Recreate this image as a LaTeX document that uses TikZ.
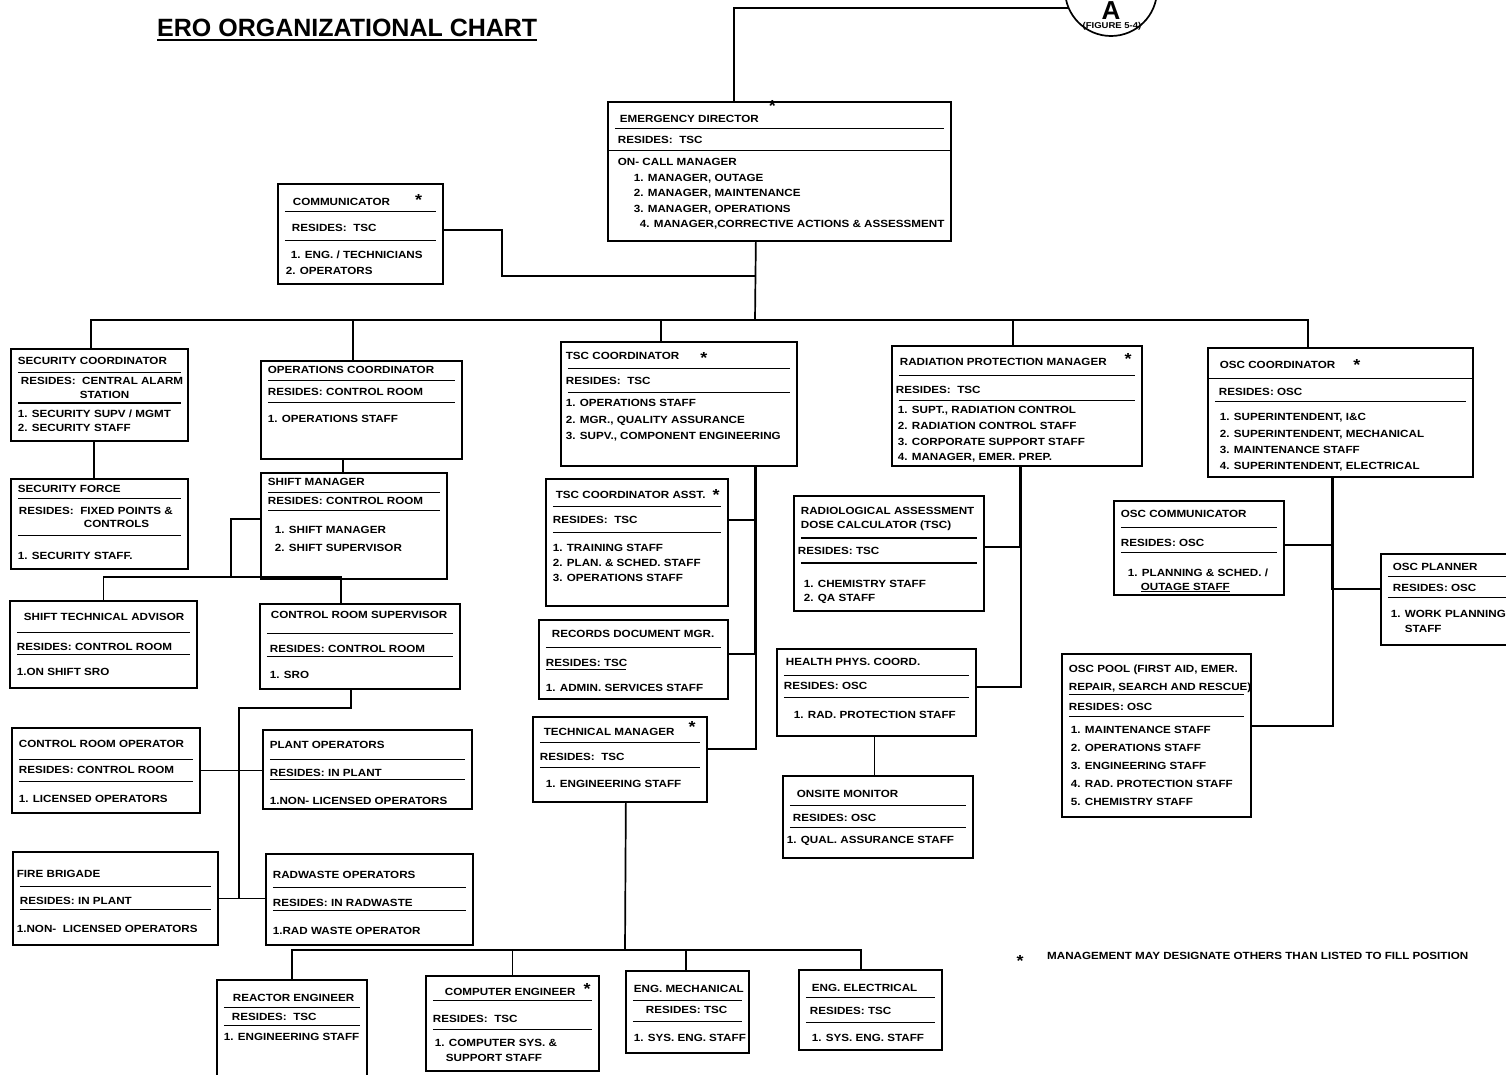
\documentclass[tikz,border=0pt]{standalone}
\usepackage{fontspec}
\setmainfont{Liberation Sans}[FakeStretch=1.12]
\newfontfamily\titlefont{Liberation Sans}

\newcommand{\chartfont}{\fontsize{10.4}{15.5}\selectfont\bfseries}
% a card: fixed width and height, text from the top; long lines may overhang
\NewDocumentCommand{\card}{O{15.5pt}mm+m}{\parbox[t][#3][t]{#2}{\baselineskip=#1\relax
  \rightskip=0pt minus 60pt\relax #4}}
\NewDocumentCommand{\hr}{O{5pt}O{7pt}O{\hsize}}{\par\vspace{#1}\hrule width #3 height 1.6pt\vspace{#2}}
\NewDocumentCommand{\fullhr}{O{5pt}O{7pt}}{\par\nointerlineskip\vspace{#1}\hbox to\hsize{\hskip-7pt
  \vrule width \dimexpr\hsize+14pt\relax height 1.6pt\hss}\nointerlineskip\vspace{#2}}
\newcommand{\desig}[1][0pt]{\smash{\raisebox{#1}{\fontsize{16}{16}\selectfont*}}}
\newcommand{\bigul}[1]{\setbox0\hbox{#1}\rlap{\vrule height -3pt depth 5pt width \wd0}\box0}

\begin{document}
\begin{tikzpicture}[
  x=1pt, y=-1pt,
  orgbox/.style = {draw, line width=1.7pt, anchor=north west,
                   inner xsep=7pt, inner ysep=0pt, font=\chartfont},
  link/.style   = {line width=1.7pt},
  note/.style   = {font=\chartfont, inner sep=0pt},
]
\useasboundingbox (0,0) rectangle (1506,1074);
\clip (0,0) rectangle (1506,1074);

\node[note, anchor=base west] (title) at (157,36)
  {\titlefont\bfseries\fontsize{25}{25}\selectfont\bigul{ERO ORGANIZATIONAL CHART}};

% off-page connector to figure 5-4
\node[draw, circle, line width=1.7pt, minimum size=92pt, inner sep=0pt] (figA) at (1111,-10) {};
\node[note, anchor=base] (figAletter) at (1111,19) {\titlefont\bfseries\fontsize{26}{26}\selectfont A};
\node[note] (figAref) at (1112,26) {\fontsize{8.5}{9}\selectfont (FIGURE 5-4)};

\node[orgbox] (ed) at (607,101) {\card{329pt}{139pt}{\vspace*{13pt}%
  \hspace*{5pt}EMERGENCY DIRECTOR\hspace{10pt}\desig[11pt]\hr[5.5pt][7.4pt]%
  \hspace*{3pt}RESIDES:\ \ TSC\fullhr[5.5pt][7.4pt]%
  \hspace*{3pt}ON- CALL MANAGER\\
  \hspace*{19pt}1. MANAGER, OUTAGE\\
  \hspace*{19pt}2. MANAGER, MAINTENANCE\\
  \hspace*{19pt}3. MANAGER, OPERATIONS\\
  \hspace*{25pt}4. MANAGER,CORRECTIVE ACTIONS \& ASSESSMENT}};

\node[orgbox] (comm) at (277,183) {\card[16pt]{151pt}{100pt}{\vspace*{14pt}%
  \hspace*{8pt}COMMUNICATOR\hspace{25pt}\desig\hr[5.5pt][12.4pt]%
  \hspace*{7pt}RESIDES:\ \ TSC\hr[7.5pt][9.4pt]%
  \hspace*{6pt}1. ENG. / TECHNICIANS\\
  \hspace*{1pt}2. OPERATORS}};

% left wing
\node[orgbox] (seccoord) at (10,348) {\card[13.5pt]{163pt}{92pt}{\vspace*{8pt}%
  SECURITY COORDINATOR\hr[7.5pt][4.4pt]%
  \hspace*{3pt}RESIDES:\ \ CENTRAL ALARM\\
  \hspace*{62pt}STATION\hr[3.5pt][6.4pt]%
  1. SECURITY SUPV / MGMT\\
  2. SECURITY STAFF}};

\node[orgbox] (secforce) at (10,478) {\card[13pt]{163pt}{90pt}{\vspace*{6pt}%
  SECURITY FORCE\hr[5.5pt][8.4pt]%
  \hspace*{1pt}RESIDES:\ \ FIXED POINTS \&\\
  \hspace*{66pt}CONTROLS\hr[6.5pt][16.4pt]%
  1. SECURITY STAFF.}};

\node[orgbox] (opscoord) at (260,360) {\card{187pt}{98pt}{\vspace*{5pt}%
  OPERATIONS COORDINATOR\hr[6.5pt][7.4pt]%
  RESIDES: CONTROL ROOM\hr[5.5pt][12.4pt]%
  1. OPERATIONS STAFF}};

\node[orgbox] (shiftmgr) at (260,472) {\card[18pt]{172pt}{106pt}{\vspace*{5pt}%
  SHIFT MANAGER\hr[6.5pt][4.4pt]%
  RESIDES: CONTROL ROOM\hr[4.5pt][15.4pt]%
  \hspace*{7pt}1. SHIFT MANAGER\\
  \hspace*{7pt}2. SHIFT SUPERVISOR}};

\node[orgbox] (sta) at (9,600) {\card{173pt}{87pt}{\vspace*{12pt}%
  \hspace*{7pt}SHIFT TECHNICAL ADVISOR\hr[11.5pt][10.4pt]%
  RESIDES: CONTROL ROOM\hr[2.5pt][13.4pt]%
  1.ON SHIFT SRO}};

\node[orgbox] (crs) at (259,603) {\card{186pt}{85pt}{\vspace*{7pt}%
  \hspace*{4pt}CONTROL ROOM SUPERVISOR\hr[14.5pt][11.4pt]%
  \hspace*{3pt}RESIDES: CONTROL ROOM\hr[2.5pt][14.4pt]%
  \hspace*{3pt}1. SRO}};

\node[orgbox] (cro) at (11,727) {\card{174pt}{85pt}{\vspace*{12pt}%
  CONTROL ROOM OPERATOR\hr[11.5pt][6.4pt]%
  RESIDES: CONTROL ROOM\hr[6.5pt][13.4pt]%
  1. LICENSED OPERATORS}};

\node[orgbox] (plantops) at (262,729) {\card{195pt}{79pt}{\vspace*{11pt}%
  PLANT OPERATORS\hr[10.5pt][9.4pt]%
  RESIDES: IN PLANT\hr[1.5pt][17.4pt]%
  1.NON- LICENSED OPERATORS}};

\node[orgbox] (firebrig) at (12,851) {\card{191pt}{93pt}{\vspace*{18pt}%
  \hspace*{-3pt}FIRE BRIGADE\hr[8.5pt][10.4pt]%
  RESIDES: IN PLANT\hr[3.5pt][15.4pt]%
  \hspace*{-3pt}1.NON-\ \ LICENSED OPERATORS}};

\node[orgbox] (radwaste) at (265,853) {\card{193pt}{91pt}{\vspace*{17pt}%
  RADWASTE OPERATORS\hr[8.5pt][11.4pt]%
  RESIDES: IN RADWASTE\hr[2.5pt][16.4pt]%
  1.RAD WASTE OPERATOR}};

% TSC column
\node[orgbox] (tsccoord) at (560,341) {\card[16.5pt]{222pt}{124pt}{\vspace*{10pt}%
  \hspace*{-2pt}TSC COORDINATOR\hspace{21pt}\desig[-4pt]\hr[8.5pt][8.4pt]%
  \hspace*{-2pt}RESIDES:\ \ TSC\hr[6.5pt][6.4pt]%
  \hspace*{-2pt}1. OPERATIONS STAFF\\
  \hspace*{-2pt}2. MGR., QUALITY ASSURANCE\\
  \hspace*{-2pt}3. SUPV., COMPONENT ENGINEERING}};

\node[orgbox] (tscasst) at (545,478) {\card[15pt]{168pt}{127pt}{\vspace*{12pt}%
  \hspace*{3pt}TSC COORDINATOR ASST.\hspace{7pt}\desig[-2pt]\hr[7.5pt][9.4pt]%
  RESIDES:\ \ TSC\hr[7.5pt][11.4pt]%
  1. TRAINING STAFF\\
  2. PLAN. \& SCHED. STAFF\\
  3. OPERATIONS STAFF}};

\node[orgbox] (records) at (538,619) {\card{175pt}{79pt}{\vspace*{10pt}%
  \hspace*{6pt}RECORDS DOCUMENT MGR.\hr[9.5pt][11.4pt]%
  RESIDES: TSC\hr[1.5pt][14.4pt][80pt]%
  1. ADMIN. SERVICES STAFF}};

\node[orgbox] (techmgr) at (532,716) {\card{160pt}{85pt}{\vspace*{11pt}%
  \hspace*{4pt}TECHNICAL MANAGER\hspace{14pt}\desig[3pt]\hr[6.5pt][10.4pt]%
  RESIDES:\ \ TSC\hr[5.5pt][12.4pt]%
  \hspace*{6pt}1. ENGINEERING STAFF}};

\node[orgbox] (reactor) at (216,979) {\card{136pt}{111pt}{\vspace*{14pt}%
  \hspace*{9pt}REACTOR ENGINEER\hr[5.5pt][5.4pt]%
  \hspace*{8pt}RESIDES:\ \ TSC\hr[3.5pt][7.4pt]%
  1. ENGINEERING STAFF}};

\node[orgbox] (compeng) at (425,975) {\card[15pt]{159pt}{95pt}{\vspace*{12pt}%
  \hspace*{12pt}COMPUTER ENGINEER\hspace{8pt}\desig[1pt]\hr[4.5pt][14.4pt]%
  RESIDES:\ \ TSC\hr[5.5pt][9.4pt]%
  \hspace*{2pt}1. COMPUTER SYS. \&\\
  \hspace*{13pt}SUPPORT STAFF}};

\node[orgbox] (engmech) at (625,970) {\card{109pt}{82pt}{\vspace*{14pt}%
  \hspace*{1pt}ENG. MECHANICAL\hr[7.5pt][5.4pt]%
  \hspace*{13pt}RESIDES: TSC\hr[6.5pt][12.4pt]%
  \hspace*{1pt}1. SYS. ENG. STAFF}};

\node[orgbox] (engelec) at (798,969) {\card{129pt}{80pt}{\vspace*{14pt}%
  \hspace*{6pt}ENG. ELECTRICAL\hr[5.5pt][9.4pt]%
  \hspace*{4pt}RESIDES: TSC\hr[6.5pt][11.4pt]%
  \hspace*{6pt}1. SYS. ENG. STAFF}};

% radiation protection column
\node[orgbox] (rpm) at (891,345) {\card[15.7pt]{236pt}{120pt}{\vspace*{12pt}%
  \hspace*{1pt}RADIATION PROTECTION MANAGER\hspace{18pt}\desig[1pt]\hr[9.5pt][10.4pt]%
  \hspace*{-3pt}RESIDES:\ \ TSC\hr[5.5pt][5.4pt]%
  \hspace*{-1pt}1. SUPT., RADIATION CONTROL\\
  \hspace*{-1pt}2. RADIATION CONTROL STAFF\\
  \hspace*{-1pt}3. CORPORATE SUPPORT STAFF\\
  \hspace*{-1pt}4. MANAGER, EMER. PREP.}};

\node[orgbox] (radassess) at (793,495) {\card[14.5pt]{176pt}{115pt}{\vspace*{11pt}%
  RADIOLOGICAL ASSESSMENT\\
  DOSE CALCULATOR (TSC)\hr[6.5pt][8.4pt]%
  \hspace*{-3pt}RESIDES: TSC\hr[7.5pt][16.4pt]%
  \hspace*{3pt}1. CHEMISTRY STAFF\\
  \hspace*{3pt}2. QA STAFF}};

\node[orgbox] (hpcoord) at (776,648) {\card{185pt}{87pt}{\vspace*{9pt}%
  \hspace*{2pt}HEALTH PHYS. COORD.\hr[9.5pt][6.4pt]%
  RESIDES: OSC\hr[6.5pt][13.4pt]%
  \hspace*{10pt}1. RAD. PROTECTION STAFF}};

\node[orgbox] (onsite) at (782,775) {\card{176pt}{82pt}{\vspace*{14pt}%
  \hspace*{7pt}ONSITE MONITOR\hr[7.5pt][8.4pt]%
  \hspace*{3pt}RESIDES: OSC\hr[4.5pt][8.4pt]%
  \hspace*{-3pt}1. QUAL. ASSURANCE STAFF}};

% OSC column
\node[orgbox] (osccoord) at (1207,347) {\card[16.3pt]{251pt}{129pt}{\vspace*{13pt}%
  \hspace*{5pt}OSC COORDINATOR\hspace{18pt}\desig[-2pt]\fullhr[9.5pt][9.4pt]%
  \hspace*{4pt}RESIDES: OSC\hr[4.5pt][11.4pt]%
  \hspace*{5pt}1. SUPERINTENDENT, I\&C\\
  \hspace*{5pt}2. SUPERINTENDENT, MECHANICAL\\
  \hspace*{5pt}3. MAINTENANCE STAFF\\
  \hspace*{5pt}4. SUPERINTENDENT, ELECTRICAL}};

\node[orgbox] (osccomm) at (1113,500) {\card[14pt]{156pt}{94pt}{\vspace*{9pt}%
  OSC COMMUNICATOR\hr[9.5pt][11.4pt]%
  RESIDES: OSC\hr[4.5pt][15.4pt]%
  \hspace*{7pt}1. PLANNING \& SCHED. /\\
  \hspace*{20pt}\underline{OUTAGE STAFF}}};

\node[orgbox] (oscplanner) at (1380,553) {\card[15pt]{126pt}{91pt}{\vspace*{9pt}%
  \hspace*{5pt}OSC PLANNER\hr[5.5pt][7.4pt]%
  \hspace*{5pt}RESIDES: OSC\hr[4.5pt][12.4pt]%
  \hspace*{3pt}1. WORK PLANNING\\
  \hspace*{17pt}STAFF}};

\node[orgbox] (oscpool) at (1061,653) {\card[17.8pt]{175pt}{163pt}{\vspace*{11pt}%
  OSC POOL (FIRST AID, EMER.\\
  REPAIR, SEARCH AND RESCUE)\hr[1.5pt][7.4pt]%
  RESIDES: OSC\hr[5.5pt][9.4pt]%
  \hspace*{2pt}1. MAINTENANCE STAFF\\
  \hspace*{2pt}2. OPERATIONS STAFF\\
  \hspace*{2pt}3. ENGINEERING STAFF\\
  \hspace*{2pt}4. RAD. PROTECTION STAFF\\
  \hspace*{2pt}5. CHEMISTRY STAFF}};

\node[note] (notestar) at (1020,960.5) {\fontsize{16}{16}\selectfont*};
\node[note, anchor=west] (notetext) at (1047,956)
  {MANAGEMENT MAY DESIGNATE OTHERS THAN LISTED TO FILL POSITION};

% junctions
\coordinate (bus) at (755,320);
\coordinate (commjoin) at (755,276);
\coordinate (shbus) at (231,577);
\coordinate (opsbus) at (239,708);
\coordinate (tscspine) at (755,465);
\coordinate (engbus) at (625,950);
\coordinate (rpmspine) at (1020,465);
\coordinate (oscspine) at (1332,476);

\draw[link] (figA.203) -| ([xshift=-45.5pt]ed.north);
\draw[link] ([xshift=-23.5pt]ed.south) -- (bus);
\draw[link] ([yshift=4pt]comm.east) -- ++(58,0) |- (commjoin);

% main bus and its drops
\draw[link] ([xshift=-8.5pt]seccoord.north) -- ++(0,-28) -| ([xshift=-32.5pt]osccoord.north);
\draw[link] ([xshift=-8.5pt]opscoord.north) |- (bus);
\draw[link] ([xshift=-18pt]tsccoord.north) |- (bus);
\draw[link] ([xshift=-4pt]rpm.north) |- (bus);

\draw[link] ([xshift=-5.5pt]seccoord.south) -- ([xshift=-5.5pt]secforce.north);
\draw[link] ([xshift=-18.5pt]opscoord.south) -- ++(0,14);
\draw[link] ([yshift=7pt]shiftmgr.west) -| (shbus);
\draw[link] (sta.north) |- (shbus) -| ([xshift=-19pt]crs.north);
\draw[link] ([xshift=-9pt]crs.south) |- (opsbus) |- (firebrig.east);
\draw[link] (cro.east) -- (cro.east -| plantops.west);
\draw[link] (firebrig.east) -- (firebrig.east -| radwaste.west);

\draw[link] ([xshift=77pt]tsccoord.south) |- ([yshift=10.5pt]techmgr.east);
\draw[link] ([yshift=22.5pt]tscasst.east) -| (tscspine);
\draw[link] ([yshift=5.5pt]records.east) -| (tscspine);
\draw[link] ([xshift=6pt]techmgr.south) -- (engbus);
\draw[link] (reactor.north) -- ++(0,-29) -| ([xshift=-9.5pt]engelec.north);
\draw[link] (compeng.north) |- (engbus);
\draw[link] ([xshift=-1.5pt]engmech.north) |- (engbus);

\draw[link] ([xshift=4pt]rpm.south) |- ([yshift=5.5pt]hpcoord.east);
\draw[link] ([yshift=6.5pt]radassess.east) -| (rpmspine);
\draw[link] ([xshift=-2pt]hpcoord.south) -- ++(0,40);

\draw[link] ([xshift=-7.5pt]osccoord.south) |- ([yshift=9.5pt]oscpool.east);
\draw[link] ([yshift=3pt]osccomm.east) -| (oscspine);
\draw[link] ([yshift=10.5pt]oscplanner.west) -| (oscspine);
\end{tikzpicture}
\end{document}
